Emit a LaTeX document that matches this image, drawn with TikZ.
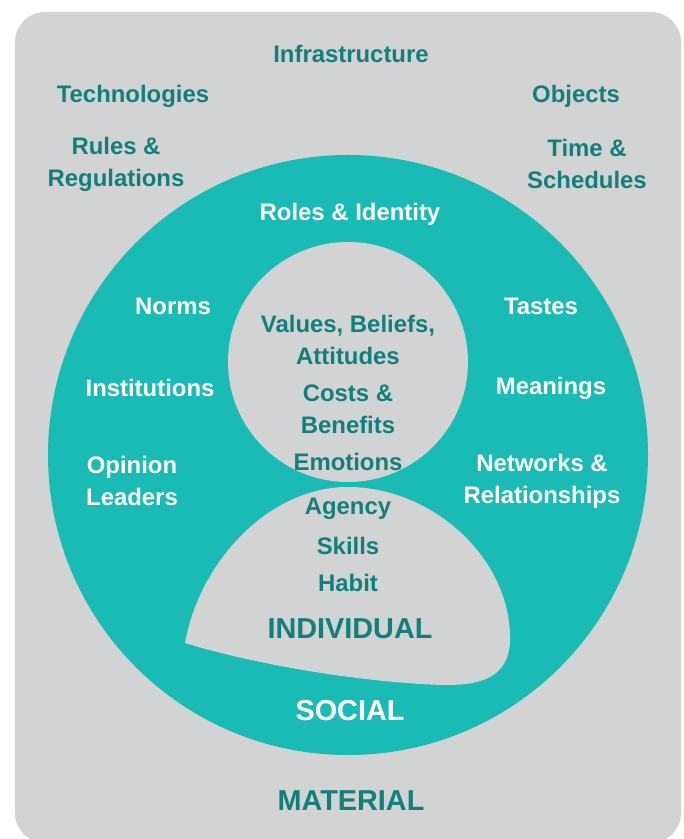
\documentclass[tikz,border=0pt]{standalone}
\usepackage{fontspec}
\setmainfont{Liberation Sans}
\usepackage{xcolor}
\usepackage{tikz}
\usetikzlibrary{positioning}
\definecolor{ringteal}{HTML}{1ABBB4}
\definecolor{darkteal}{HTML}{137F7B}
\definecolor{panelgray}{HTML}{D1D3D4}
\tikzset{
	lab/.style={align=center, inner sep=1pt, yshift=-1.1pt, font=\fontsize{13.6}{18.2}\selectfont\bfseries},
	matlbl/.style={lab, text=darkteal},
	soclbl/.style={lab, text=white},
	indlbl/.style={lab, text=darkteal},
	bigword/.style={inner sep=1pt, yshift=-1pt, font=\fontsize{16.4}{20}\selectfont\bfseries},
}

\begin{document}
\begin{tikzpicture}
				
				\useasboundingbox (-6.96,-7.68) rectangle (6.70,9.10);
				
				% layers
				\fill[panelgray, rounded corners=0.6cm] (-6.66,-7.76) rectangle (6.66,8.86);
				\fill[ringteal] (0,0) circle (6);
				\fill[panelgray] (0,1.86) circle (2.4);
				\fill[panelgray] (-3.26,-3.76) .. controls (-2.96,-2.10) and (-1.56,-0.64) .. (0,-0.64)
				.. controls (1.64,-0.64) and (3.20,-2.00) .. (3.24,-3.60)
				.. controls (3.28,-4.70) and (2.24,-4.62) .. (1.44,-4.58)
				.. controls (-0.36,-4.46) and (-2.16,-4.10) .. (-3.26,-3.76) -- cycle;
				
				% material
				\node[matlbl] (infra) at (0.06,8.06) {Infrastructure};
				\node[matlbl] (tech) at (-4.30,7.22) {Technologies};
				\node[matlbl] (objects) at (4.56,7.22) {Objects};
				\node[matlbl] (rules) at (-4.64,5.86) {Rules \&\\Regulations};
				\node[matlbl] (time) at (4.78,5.86) {Time \&\\Schedules};
				\node[bigword, text=darkteal] (material) at (0.06,-6.88) {MATERIAL};
				
				% social
				\node[soclbl] (roles) at (0.04,4.86) {Roles \& Identity};
				\node[soclbl] (norms) at (-3.50,3.02) {Norms};
				\node[soclbl] (tastes) at (3.86,3.02) {Tastes};
				\node[soclbl] (inst) at (-3.96,1.38) {Institutions};
				\node[soclbl] (meanings) at (4.06,1.38) {Meanings};
				\node[soclbl] (opinion) at (-4.32,-0.48) {Opinion\\Leaders};
				\node[soclbl] (networks) at (3.88,-0.48) {Networks \&\\Relationships};
				\node[bigword, text=white] (social) at (0.04,-5.08) {SOCIAL};
				
				% individual
				\node[indlbl] (values) at (0,2.34) {Values, Beliefs,\\Attitudes};
				\node[indlbl] (costs) at (0,0.96) {Costs \&\\Benefits};
				\node[indlbl] (emotions) at (0,-0.10) {Emotions};
				\node[indlbl] (agency) at (0,-1.04) {Agency};
				\node[indlbl] (skills) at (0,-1.78) {Skills};
				\node[indlbl] (habit) at (0,-2.52) {Habit};
				\node[bigword, text=darkteal] (individual) at (0.04,-3.44) {INDIVIDUAL};
				
			\end{tikzpicture}
\end{document}
